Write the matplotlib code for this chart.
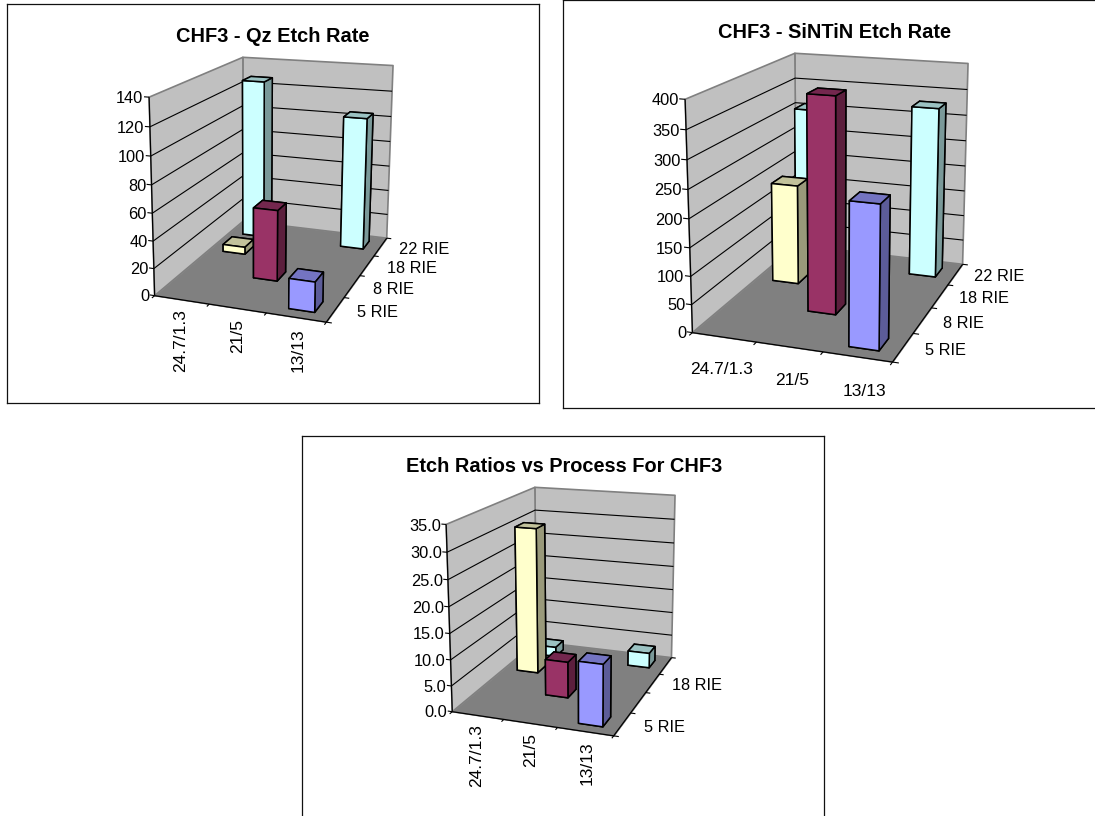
import numpy as np
import matplotlib
matplotlib.use('Agg')
import matplotlib.pyplot as plt
from matplotlib.colors import to_rgb
from mpl_toolkits.mplot3d import proj3d
from mpl_toolkits.mplot3d.art3d import Line3DCollection, Poly3DCollection

plt.rcParams['font.family'] = ['Liberation Sans', 'DejaVu Sans']

processes = ['24.7/1.3', '21/5', '13/13']
rie_names = ['5 RIE', '8 RIE', '18 RIE', '22 RIE']
rie_names_skip = ['5 RIE', '', '18 RIE', '']

# one list per RIE row, one value per process, 0 = no bar
qz_5rie = [0, 0, 21.5]
qz_8rie = [0, 53, 0]
qz_18rie = [5.6, 0, 0]
qz_22rie = [127, 0, 104]
qz_ticks = [0, 20, 40, 60, 80, 100, 120, 140]

sin_5rie = [0, 0, 248]
sin_8rie = [0, 390, 0]
sin_18rie = [190, 0, 0]
sin_22rie = [307, 0, 328]
sin_ticks = [0, 50, 100, 150, 200, 250, 300, 350, 400]

ratio_5rie = [0, 0, 11.6]
ratio_8rie = [0, 7.1, 0]
ratio_18rie = [30, 0, 0]
ratio_22rie = [2.0, 0, 3.1]
ratio_ticks = [0, 5, 10, 15, 20, 25, 30, 35]
ratio_tick_labels = ['0.0', '5.0', '10.0', '15.0', '20.0', '25.0', '30.0', '35.0']

bar_colors = ['#9999FF', '#993366', '#FFFFCC', '#CCFFFF']
WIDTH, HEIGHT = 1095, 816

# box corners in picture pixels: front left top, front left, front right,
# back right, back left, back left top, back right top
charts = [
    dict(title='CHF3 - Qz Etch Rate', title_xy=(273, 36), panel=(7, 4, 539, 403),
         rows=[qz_5rie, qz_8rie, qz_18rie, qz_22rie], ticks=qz_ticks,
         tick_labels=[str(t) for t in qz_ticks], depth_labels=rie_names,
         corners=[(149, 97), (155, 295), (326, 323), (387, 237), (243, 222), (243, 57), (393, 66)],
         cat_rotation=90, cat_offset=(0.15, -0.35), cat_va='top', depth_offset=0.36),
    dict(title='CHF3 - SiNTiN Etch Rate', title_xy=(835, 32), panel=(563, 0, 1105, 408),
         rows=[sin_5rie, sin_8rie, sin_18rie, sin_22rie], ticks=sin_ticks,
         tick_labels=[str(t) for t in sin_ticks], depth_labels=rie_names,
         corners=[(685, 99), (693, 332), (892, 363), (963, 263), (796, 246), (795, 53), (968, 64)],
         cat_rotation=0, cat_offset=(0.42, -0.95), cat_va='center', depth_offset=0.31),
    dict(title='Etch Ratios vs Process For CHF3', title_xy=(564, 467), panel=(302, 436, 824, 830),
         rows=[ratio_5rie, ratio_8rie, ratio_18rie, ratio_22rie], ticks=ratio_ticks,
         tick_labels=ratio_tick_labels, depth_labels=rie_names_skip,
         corners=[(446, 524), (453, 711), (613, 737), (672, 656), (536, 643), (535, 487), (675, 496)],
         cat_rotation=90, cat_offset=(0.15, -0.35), cat_va='top', depth_offset=0.38),
]


def fit_projection(ax, corners, nx, ny, zmax):
    # excel's 3d view is not a centred camera, so fit the matrix to the box corners
    unit = [(0, 0, 1), (0, 0, 0), (1, 0, 0), (1, 1, 0), (0, 1, 0), (0, 1, 1), (1, 1, 1)]
    rows = []
    for (X, Y, Z), (u, v) in zip(unit, corners):
        u, v = u / 1000, v / 1000
        rows.append([X, Y, Z, 1, 0, 0, 0, 0, -u * X, -u * Y, -u * Z, -u])
        rows.append([0, 0, 0, 0, X, Y, Z, 1, -v * X, -v * Y, -v * Z, -v])
    P = np.linalg.svd(np.array(rows))[2][-1].reshape(3, 4)
    P = np.diag([1000, 1000, 1]) @ P

    # picture pixels -> display -> the 2d view coords of the 3d axes
    ax.apply_aspect()
    flip = np.array([[1, 0, 0], [0, -1, HEIGHT], [0, 0, 1]])
    P = ax.transData.inverted().get_matrix() @ flip @ P
    P = P @ np.diag([1 / nx, 1 / ny, 1 / zmax, 1])
    P = P / (P[2] @ np.array([nx / 2, ny / 2, zmax / 2, 1]))

    # third row only has to grow with distance for the depth sort
    return np.vstack([P[0], P[1], P[2] - [0, 0, 0, 0.5], P[2]])


def add_lines(ax, segments, color='black', lw=0.8):
    ax.add_collection3d(Line3DCollection(segments, colors=color, linewidths=lw, zorder=2),
                        autolim=False)


def draw_chart(fig, c):
    left, top, right, bottom = c['panel']
    rect = [left / WIDTH, 1 - bottom / HEIGHT, (right - left) / WIDTH, (bottom - top) / HEIGHT]

    frame = fig.add_axes(rect)
    frame.set_xticks([])
    frame.set_yticks([])
    for s in frame.spines.values():
        s.set_linewidth(0.9)
        s.set_color('#111111')
    fig.text(c['title_xy'][0] / WIDTH, 1 - c['title_xy'][1] / HEIGHT, c['title'], fontsize=14.4,
             fontweight='bold', ha='center', va='center')

    ax = fig.add_axes(rect, projection='3d', computed_zorder=False)
    ax.set_axis_off()
    ax.patch.set_alpha(0)
    nx, ny = len(processes), len(c['rows'])
    zmax = c['ticks'][-1]
    M = fit_projection(ax, c['corners'], nx, ny, zmax)
    ax.get_proj = lambda: M

    def label(x, y, z, s, nudge=0, size=11.8, **kw):
        # Text3D ignores rotation, so put the text on the figure at the projected spot
        vx, vy, _ = proj3d.proj_transform(x, y, z, M)
        px, py = ax.transData.transform((vx, vy))
        fig.text(px / WIDTH, (py - nudge) / HEIGHT, s, fontsize=size, **kw)

    # walls and floor
    left_wall = [(0, 0, 0), (0, ny, 0), (0, ny, zmax), (0, 0, zmax)]
    back_wall = [(0, ny, 0), (nx, ny, 0), (nx, ny, zmax), (0, ny, zmax)]
    floor = [(0, 0, 0), (nx, 0, 0), (nx, ny, 0), (0, ny, 0)]
    ax.add_collection3d(Poly3DCollection([left_wall, back_wall], facecolor='#C0C0C0',
                                         edgecolor='#808080', linewidth=1.2, zorder=1))
    ax.add_collection3d(Poly3DCollection([floor], facecolor='#808080', edgecolor='#808080',
                                         linewidth=0.6, zorder=1))

    # grid lines and value axis
    grid = []
    for t, lab in zip(c['ticks'], c['tick_labels']):
        if t != zmax and t != 0:
            grid.append([(0, 0, t), (0, ny, t), (nx, ny, t)])
        grid.append([(-0.09, 0, t), (0, 0, t)])
        label(-0.1, 0, t, lab, nudge=2, ha='right', va='center')
    add_lines(ax, grid)
    add_lines(ax, [[(0, 0, 0), (0, 0, zmax)], [(0, 0, 0), (nx, 0, 0), (nx, ny, 0)]], lw=0.9)

    # process axis
    add_lines(ax, [[(i, 0, 0), (i, -0.1, 0)] for i in range(nx + 1)])
    dx, dy = c['cat_offset']
    for i, name in enumerate(processes):
        label(i + 0.5 + dx, dy, 0, name, size=12.5, ha='center', va=c['cat_va'],
              rotation=c['cat_rotation'])

    # rie axis
    add_lines(ax, [[(nx, j, 0), (nx + 0.09, j, 0)] for j in range(ny + 1)])
    for j, name in enumerate(c['depth_labels']):
        if name:
            label(nx + c['depth_offset'], j + 0.5, 0, name, ha='left', va='center')

    # bars, back row first and left to right
    z = 3
    for j in reversed(range(ny)):
        base = np.array(to_rgb(bar_colors[j]))
        faces = [base * 0.6, base * 0.76, base, base * 0.6, base * 0.6, base * 0.6]
        for i, h in enumerate(c['rows'][j]):
            if h > 0:
                ax.bar3d(i + 0.28, j + 0.28, 0, 0.44, 0.44, h, color=faces, shade=False,
                         edgecolor='black', linewidth=1.1, zorder=z)
                z += 1


fig = plt.figure(figsize=(WIDTH / 100, HEIGHT / 100), dpi=100)
for c in charts:
    draw_chart(fig, c)
fig.savefig('out.png', dpi=100)
